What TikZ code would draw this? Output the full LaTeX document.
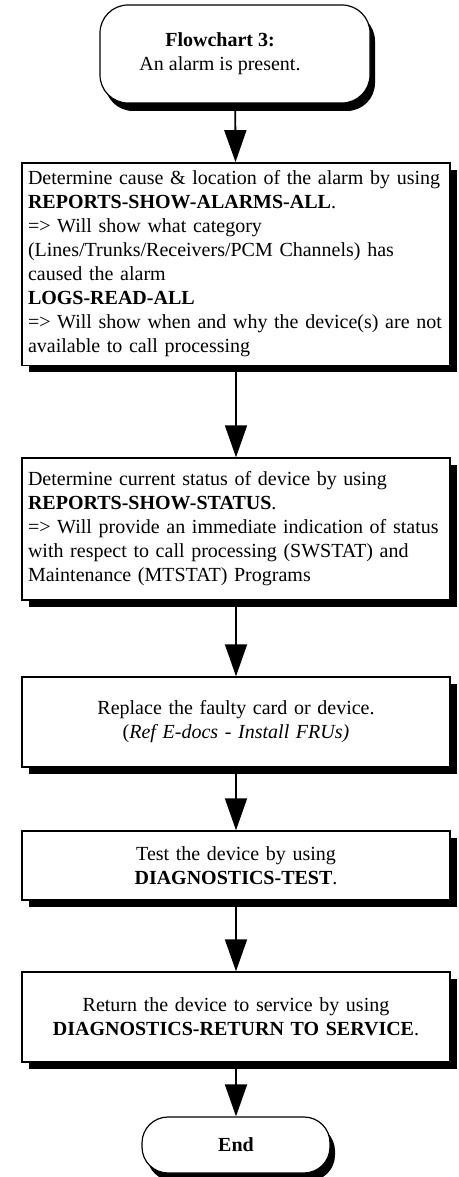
\documentclass[tikz,border=0pt]{standalone}
\usepackage{fontspec}
\setmainfont{Liberation Serif}
\usetikzlibrary{arrows.meta,shadows}

\tikzset{
  stepbox/.style={draw, line width=0.7pt, fill=white, inner xsep=3pt, inner ysep=4pt,
    text width=208pt, font=\fontsize{10}{12}\selectfont,
    drop shadow={shadow xshift=3.5pt, shadow yshift=-3.5pt, fill=black, opacity=1}},
  terminal/.style={draw, line width=0.6pt, fill=white, rounded corners=14pt,
    align=center, font=\fontsize{10}{12}\selectfont,
    drop shadow={shadow xshift=2.5pt, shadow yshift=-4pt, fill=black, opacity=1}},
  flow/.style={-{Triangle[width=11pt,length=16pt]}, line width=0.9pt}
}

\begin{document}
\begin{tikzpicture}[x=0.5pt,y=-0.5pt]
\useasboundingbox (0,0) rectangle (459,1177);

\node[terminal, minimum width=135pt, minimum height=49pt] (start) at (235,54)
  {\textbf{Flowchart 3:}\hspace*{15pt}\\An alarm is present.\hspace*{15pt}};

\node[stepbox, align=left, minimum height=100pt] (cause) at (236,264)
  {\mbox{Determine cause \& location of the alarm by using}\\
   \textbf{REPORTS-SHOW-ALARMS-ALL}.\\
   => Will show what category\\
   (Lines/Trunks/Receivers/PCM Channels) has\\
   caused the alarm\\
   \textbf{LOGS-READ-ALL}\\
   \mbox{=> Will show when and why the device(s) are not}\\
   available to call processing};

\node[stepbox, align=left, minimum height=71pt] (status) at (236,529)
  {Determine current status of device by using\\
   \textbf{REPORTS-SHOW-STATUS}.\\
   \mbox{=> Will provide an immediate indication of status}\\
   with respect to call processing (SWSTAT) and\\
   Maintenance (MTSTAT) Programs};

\node[stepbox, align=center, minimum height=45pt] (replace) at (236,722)
  {Replace the faulty card or device.\\
   ({\itshape Ref E-docs - Install FRUs)}};

\node[stepbox, align=center, minimum height=34.5pt] (test) at (236,865.5)
  {Test the device by using\\
   \textbf{DIAGNOSTICS-TEST}.};

\node[stepbox, align=center, minimum height=45pt] (return) at (236,1017)
  {Return the device to service by using\\
   \textbf{DIAGNOSTICS-RETURN TO SERVICE}.};

\node[terminal, rounded corners=13pt, minimum width=94pt, minimum height=28pt] (end) at (236,1145)
  {\textbf{End}};

\draw[flow] (start) -- (cause);
\draw[flow] (cause) -- (status);
\draw[flow] (status) -- (replace);
\draw[flow] (replace) -- (test);
\draw[flow] (test) -- (return);
\draw[flow] (return) -- (end);
\end{tikzpicture}
\end{document}
